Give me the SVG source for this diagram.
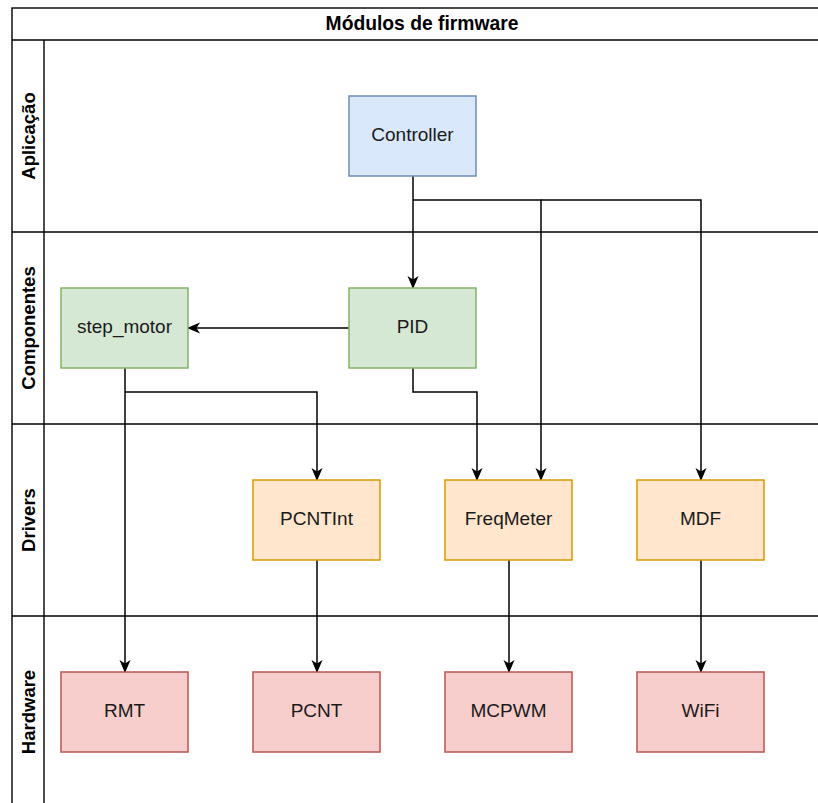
<svg xmlns="http://www.w3.org/2000/svg" width="818" height="803" viewBox="0 0 818 803">
  <style>
    .pool { fill: none; stroke: #000; stroke-width: 1.4; }
    .title { font-family: "Liberation Sans", Arial, sans-serif; font-size: 19.3px; font-weight: bold; fill: #000; }
    .lane { font-family: "Liberation Sans", Arial, sans-serif; font-size: 18.5px; font-weight: bold; fill: #000; }
    .lbl { font-family: "Liberation Sans", Arial, sans-serif; font-size: 19px; fill: #1a1a1a; text-anchor: middle; dominant-baseline: central; }
    .blue { fill: #dae8fc; stroke: #6c8ebf; stroke-width: 1.5; }
    .green { fill: #d5e8d4; stroke: #82b366; stroke-width: 1.5; }
    .orange { fill: #ffe6cc; stroke: #d79b00; stroke-width: 1.5; }
    .red { fill: #f8cecc; stroke: #b85450; stroke-width: 1.5; }
    .edge { fill: none; stroke: #000; stroke-width: 1.5; marker-end: url(#arrow); }
  </style>
  <defs>
    <marker id="arrow" viewBox="0 0 13 13" refX="12" refY="6.5" markerWidth="13" markerHeight="13" markerUnits="userSpaceOnUse" orient="auto">
      <path d="M0,1 L13,6.5 L0,12 L3.5,6.5 Z" fill="#000"/>
    </marker>
  </defs>
  <rect width="818" height="803" fill="#fff"/>

  <!-- pool frame with title band and four lanes -->
  <g id="pool">
    <rect class="pool" x="12" y="8" width="820" height="810"/>
    <line class="pool" x1="12" y1="40" x2="832" y2="40"/>
    <line class="pool" x1="44" y1="40" x2="44" y2="818"/>
    <line class="pool" x1="12" y1="232" x2="832" y2="232"/>
    <line class="pool" x1="12" y1="424" x2="832" y2="424"/>
    <line class="pool" x1="12" y1="616" x2="832" y2="616"/>
    <text class="title" x="422" y="23" text-anchor="middle" dominant-baseline="central">Módulos de firmware</text>
    <text class="lane" transform="translate(28,136) rotate(-90)" text-anchor="middle" dominant-baseline="central">Aplicação</text>
    <text class="lane" transform="translate(28,328) rotate(-90)" text-anchor="middle" dominant-baseline="central">Componentes</text>
    <text class="lane" transform="translate(28,520) rotate(-90)" text-anchor="middle" dominant-baseline="central">Drivers</text>
    <text class="lane" transform="translate(28,712) rotate(-90)" text-anchor="middle" dominant-baseline="central">Hardware</text>
  </g>

  <!-- connectors -->
  <g id="connectors">
    <path class="edge" d="M413,176 L413,288"/>
    <path class="edge" d="M413,200 L541,200 L541,480"/>
    <path class="edge" d="M541,200 L701,200 L701,480"/>
    <path class="edge" d="M349,328 L188,328"/>
    <path class="edge" d="M413,368 L413,392 L477,392 L477,480"/>
    <path class="edge" d="M125,392 L317,392 L317,480"/>
    <path class="edge" d="M125,368 L125,672"/>
    <path class="edge" d="M317,560 L317,672"/>
    <path class="edge" d="M509,560 L509,672"/>
    <path class="edge" d="M701,560 L701,672"/>
  </g>

  <!-- nodes -->
  <g id="controller"><rect class="blue" x="349" y="96" width="127" height="80"/><text class="lbl" x="412.5" y="134.5">Controller</text></g>
  <g id="step_motor"><rect class="green" x="61" y="288" width="127" height="80"/><text class="lbl" x="124.5" y="326.5">step_motor</text></g>
  <g id="pid"><rect class="green" x="349" y="288" width="127" height="80"/><text class="lbl" x="412.5" y="326.5">PID</text></g>
  <g id="pcntint"><rect class="orange" x="253" y="480" width="127" height="80"/><text class="lbl" x="316.5" y="518.5">PCNTInt</text></g>
  <g id="freqmeter"><rect class="orange" x="445" y="480" width="127" height="80"/><text class="lbl" x="508.5" y="518.5">FreqMeter</text></g>
  <g id="mdf"><rect class="orange" x="637" y="480" width="127" height="80"/><text class="lbl" x="700.5" y="518.5">MDF</text></g>
  <g id="rmt"><rect class="red" x="61" y="672" width="127" height="80"/><text class="lbl" x="124.5" y="710.5">RMT</text></g>
  <g id="pcnt"><rect class="red" x="253" y="672" width="127" height="80"/><text class="lbl" x="316.5" y="710.5">PCNT</text></g>
  <g id="mcpwm"><rect class="red" x="445" y="672" width="127" height="80"/><text class="lbl" x="508.5" y="710.5">MCPWM</text></g>
  <g id="wifi"><rect class="red" x="637" y="672" width="127" height="80"/><text class="lbl" x="700.5" y="710.5">WiFi</text></g>
</svg>
